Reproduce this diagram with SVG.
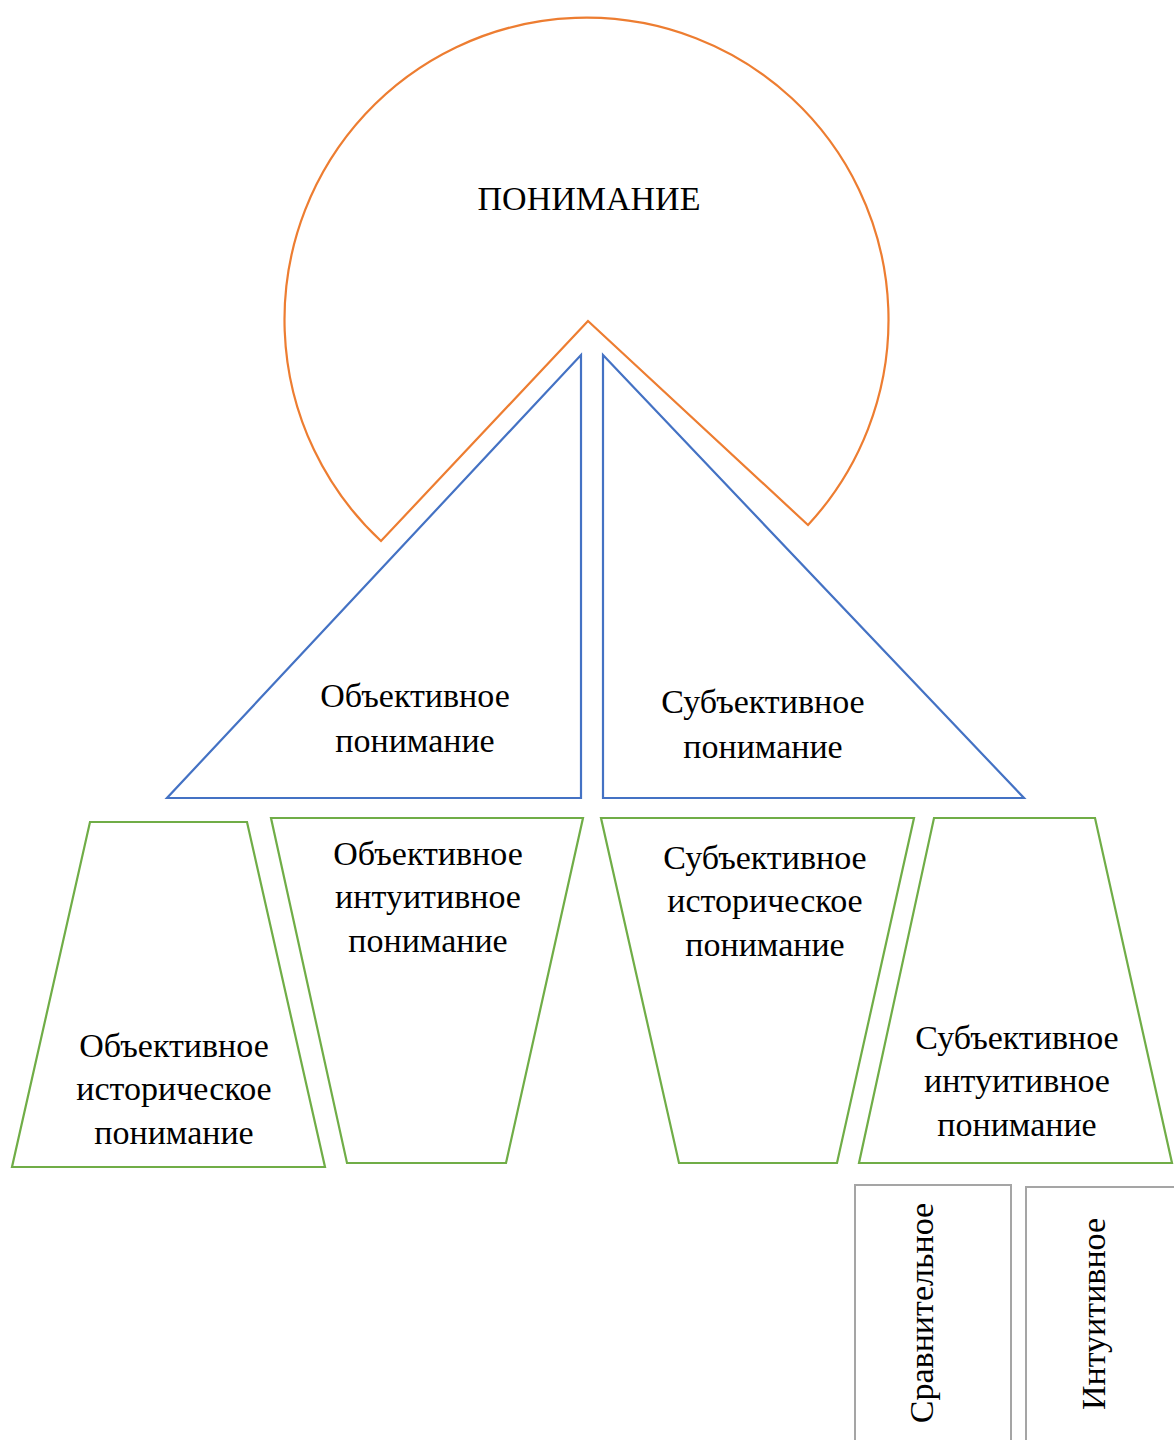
<svg xmlns="http://www.w3.org/2000/svg" width="1174" height="1440" viewBox="0 0 1174 1440">
<style>
.o{fill:#fff;stroke:#ED7D31;stroke-width:2.2}
.b{fill:#fff;stroke:#4472C4;stroke-width:2.2}
.g{fill:#fff;stroke:#70AD47;stroke-width:2.2}
.r{fill:#fff;stroke:#A5A5A5;stroke-width:2}
text{font-family:"Liberation Serif","Times New Roman",serif;font-size:34px;fill:#000;text-anchor:middle;dominant-baseline:central}
</style>
<rect width="1174" height="1440" fill="#fff"/>
<g id="ponimanie">
<path class="o" d="M588,321 L381,541 A302,302 0 1 1 808,525 Z"/>
<text x="589" y="198">ПОНИМАНИЕ</text>
</g>
<g id="objective">
<polygon class="b" points="581,355 581,798 167,798"/>
<text x="415" y="695">Объективное</text>
<text x="415" y="740">понимание</text>
</g>
<g id="subjective">
<polygon class="b" points="603,355 1024,798 603,798"/>
<text x="763" y="701">Субъективное</text>
<text x="763" y="746">понимание</text>
</g>
<g id="obj-hist">
<polygon class="g" points="90,822 247,822 325,1167 12,1167"/>
<text x="174" y="1045">Объективное</text>
<text x="174" y="1088">историческое</text>
<text x="174" y="1132">понимание</text>
</g>
<g id="obj-int">
<polygon class="g" points="271,818 583,818 506,1163 347,1163"/>
<text x="428" y="853">Объективное</text>
<text x="428" y="896">интуитивное</text>
<text x="428" y="940">понимание</text>
</g>
<g id="subj-hist">
<polygon class="g" points="601,818 914,818 837,1163 679,1163"/>
<text x="765" y="857">Субъективное</text>
<text x="765" y="900">историческое</text>
<text x="765" y="944">понимание</text>
</g>
<g id="subj-int">
<polygon class="g" points="934,818 1095,818 1172,1163 859,1163"/>
<text x="1017" y="1037">Субъективное</text>
<text x="1017" y="1080">интуитивное</text>
<text x="1017" y="1124">понимание</text>
</g>
<g id="comparative">
<rect class="r" x="855" y="1185" width="156" height="270"/>
<text transform="translate(921,1313) rotate(-90)">Сравнительное</text>
</g>
<g id="intuitive">
<rect class="r" x="1026" y="1187" width="160" height="270"/>
<text transform="translate(1093,1314) rotate(-90)">Интуитивное</text>
</g>
<g id="connectors"></g>
</svg>
